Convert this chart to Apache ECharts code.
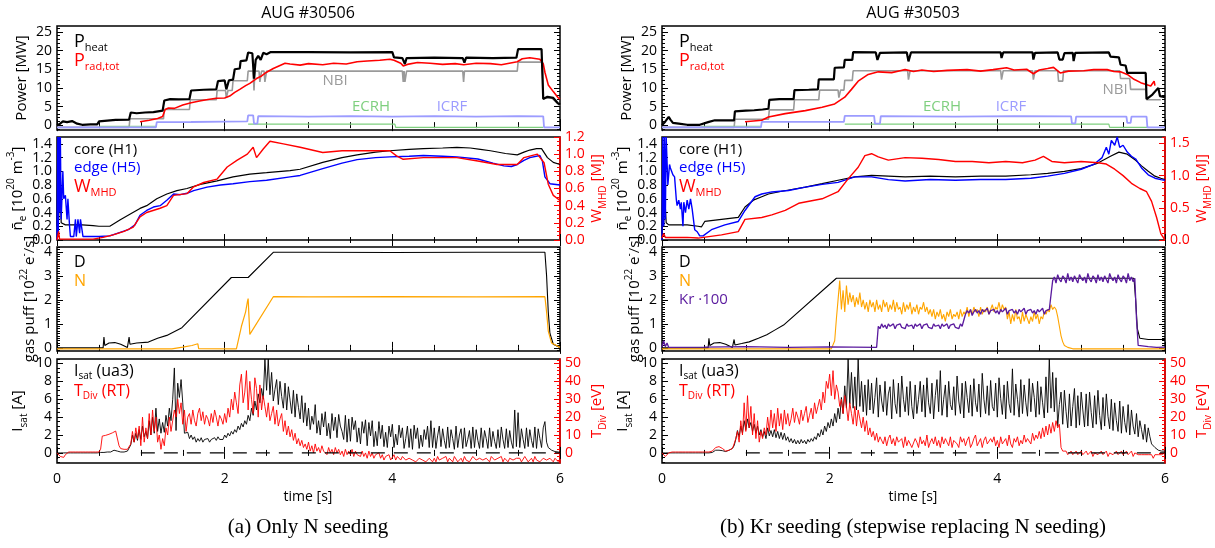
<!DOCTYPE html>
<html><head><meta charset="utf-8">
<script src="https://cdn.jsdelivr.net/npm/echarts@6/dist/echarts.min.js"></script>
<style>html,body{margin:0;padding:0;background:#fff}#c{width:1215px;height:548px}</style>
</head><body><div id="c"></div><script>
// ================= DATA =================
const titles = ['AUG #30506', 'AUG #30503'];
const captions = ['(a) Only N seeding', '(b) Kr seeding (stepwise replacing N seeding)'];
const xTicks = [0, 2, 4, 6];
const powTicks = [0, 5, 10, 15, 20, 25];
const neTicks = [0, 0.2, 0.4, 0.6, 0.8, 1.0, 1.2, 1.4];
const wTicksA = [0, 0.2, 0.4, 0.6, 0.8, 1.0, 1.2];
const wTicksB = [0, 0.5, 1.0, 1.5];
const gasTicks = [0, 1, 2, 3, 4];
const isatTicks = [0, 2, 4, 6, 8, 10];
const tdivTicks = [0, 10, 20, 30, 40, 50];
const zeroLine = [[1.0, 0], [6.0, 0]];

// ---------- (a) #30506 ----------
const a_Pheat = [[0,0],[0.03,0.3],[0.07,1.0],[0.12,0.8],[0.18,1.1],[0.24,0.4],[0.3,0.1],[0.4,0.2],[0.48,0.2],[0.5,1.0],[0.6,1.2],[0.7,1.4],[0.86,1.5],[0.88,3.4],[0.95,3.2],[1.05,3.4],[1.15,3.5],[1.26,3.9],[1.28,6.6],[1.35,7.0],[1.45,6.9],[1.58,7.0],[1.6,9.3],[1.75,9.5],[1.9,9.6],[1.92,11.8],[2.0,12.0],[2.02,9.6],[2.05,12.0],[2.1,12.2],[2.12,15.0],[2.18,15.2],[2.19,17.2],[2.26,17.4],[2.28,19.5],[2.33,19.3],[2.35,12.5],[2.37,17.5],[2.4,18.6],[2.43,17.5],[2.46,19.4],[2.5,19.0],[2.55,19.6],[3.0,19.6],[3.5,19.5],[4.0,19.6],[4.02,18.2],[4.12,18.0],[4.15,16.4],[4.17,18.0],[4.5,18.1],[4.84,18.0],[4.86,16.8],[4.88,18.1],[5.2,18.0],[5.48,18.1],[5.5,20.4],[5.78,20.4],[5.8,7.0],[5.85,7.6],[5.92,7.3],[5.97,6.0],[6.0,5.5]];
const a_Prad = [[0.99,0.9],[1.1,1.3],[1.2,1.8],[1.26,2.3],[1.29,4.2],[1.33,4.6],[1.4,4.5],[1.5,5.4],[1.6,6.0],[1.7,6.5],[1.8,6.9],[1.9,7.2],[2.0,7.3],[2.06,7.8],[2.12,8.8],[2.18,9.6],[2.25,10.6],[2.3,11.2],[2.38,12.5],[2.44,13.2],[2.5,14.2],[2.58,15.2],[2.66,16.0],[2.72,16.6],[2.78,16.4],[2.9,16.1],[3.0,16.5],[3.17,16.2],[3.3,16.6],[3.45,16.4],[3.58,17.0],[3.7,17.2],[3.85,17.4],[3.97,17.7],[4.02,17.4],[4.1,16.6],[4.13,15.9],[4.18,16.3],[4.3,16.8],[4.45,16.6],[4.6,16.3],[4.75,16.5],[4.85,16.2],[5.0,16.6],[5.17,16.5],[5.3,16.2],[5.49,17.0],[5.55,17.8],[5.64,18.1],[5.76,17.7],[5.8,16.5],[5.82,14.2],[5.86,10.8],[5.92,9.0],[5.98,7.3],[6.0,7.0]];
const a_NBI = [[0,-0.6],[0.86,-0.6],[0.87,1.7],[1.27,1.7],[1.28,4.2],[1.58,4.2],[1.59,6.8],[1.9,6.8],[1.91,9.3],[2.01,9.3],[2.02,7.3],[2.04,9.3],[2.09,9.3],[2.1,11.9],[2.27,11.9],[2.28,14.5],[2.34,14.5],[2.35,9.3],[2.36,14.5],[2.41,14.5],[2.42,11.6],[2.44,14.5],[2.47,14.5],[2.48,11.6],[2.5,14.5],[4.12,14.5],[4.13,11.6],[4.14,14.5],[4.15,11.6],[4.17,14.5],[4.84,14.5],[4.85,11.6],[4.86,14.5],[5.49,14.5],[5.5,16.9],[5.79,16.9],[5.8,7.3],[5.9,7.3],[6.0,5.2]];
const a_ECRH = [[0.51,-0.3],[1.19,-0.3],[1.2,'-'],[2.28,0.3],[4.03,0.3],[4.04,-0.6],[5.8,-0.6]];
const a_ICRF = [[0,-0.6],[1.18,-0.6],[1.19,0.8],[1.6,0.85],[2.0,0.95],[2.27,1.0],[2.28,2.6],[2.34,2.6],[2.35,0.4],[2.39,0.4],[2.4,2.4],[3.0,2.3],[3.5,2.4],[4.0,2.3],[4.5,2.4],[5.0,2.3],[5.5,2.4],[5.8,2.35],[5.81,-0.6],[6,-0.6]];
const a_core = [[0,0.2],[0.01,1.5],[0.02,0.3],[0.03,1.2],[0.05,0.25],[0.1,0.22],[0.3,0.22],[0.43,0.21],[0.5,0.2],[0.63,0.2],[0.75,0.29],[0.89,0.39],[0.99,0.46],[1.07,0.5],[1.19,0.6],[1.31,0.67],[1.43,0.72],[1.55,0.75],[1.71,0.81],[1.91,0.86],[2.1,0.92],[2.3,0.96],[2.5,0.98],[2.78,1.01],[2.9,1.03],[3.17,1.13],[3.4,1.2],[3.58,1.24],[3.8,1.28],[3.97,1.3],[4.2,1.32],[4.37,1.33],[4.6,1.34],[4.77,1.35],[4.93,1.34],[5.05,1.32],[5.17,1.3],[5.35,1.26],[5.49,1.24],[5.57,1.28],[5.64,1.31],[5.72,1.33],[5.78,1.33],[5.85,1.2],[5.92,1.13],[6.0,1.1]];
const a_edge = [[0,0],[0.01,1.5],[0.015,0.1],[0.025,1.5],[0.03,0.4],[0.04,1.5],[0.05,0.3],[0.07,1.0],[0.08,0.6],[0.1,0.65],[0.12,0.3],[0.13,0.6],[0.15,0.2],[0.16,0.05],[0.2,0.05],[0.22,0.3],[0.23,0.05],[0.25,0.3],[0.27,0.1],[0.28,0.3],[0.3,0.28],[0.31,0.05],[0.4,0.05],[0.5,0.05],[0.63,0.06],[0.7,0.09],[0.85,0.15],[0.93,0.22],[0.99,0.36],[1.07,0.43],[1.15,0.48],[1.23,0.5],[1.31,0.58],[1.39,0.67],[1.47,0.66],[1.55,0.68],[1.63,0.72],[1.79,0.77],[1.95,0.8],[2.1,0.82],[2.3,0.85],[2.5,0.87],[2.78,0.92],[2.9,0.94],[3.17,1.04],[3.4,1.12],[3.58,1.17],[3.8,1.2],[3.97,1.21],[4.2,1.22],[4.37,1.23],[4.6,1.22],[4.77,1.21],[5.02,1.18],[5.2,1.12],[5.33,1.08],[5.42,1.07],[5.49,1.1],[5.57,1.16],[5.64,1.2],[5.76,1.23],[5.79,1.15],[5.82,0.92],[5.88,0.82],[6.0,0.8]];
const a_Wmhd = [[0,0.0],[0.02,0.1],[0.03,0.01],[0.2,0.01],[0.43,0.01],[0.55,0.03],[0.67,0.06],[0.8,0.1],[0.91,0.15],[0.99,0.27],[1.07,0.32],[1.23,0.37],[1.31,0.4],[1.39,0.52],[1.55,0.54],[1.63,0.62],[1.75,0.67],[1.91,0.71],[2.03,0.85],[2.15,0.93],[2.27,1.0],[2.34,1.08],[2.38,0.96],[2.46,1.06],[2.54,1.15],[2.7,1.12],[2.9,1.08],[3.17,1.02],[3.4,1.04],[3.58,1.04],[3.97,1.04],[4.05,0.98],[4.13,0.94],[4.37,0.96],[4.77,0.96],[5.02,0.92],[5.25,0.88],[5.49,0.88],[5.57,0.96],[5.73,1.0],[5.81,0.9],[5.86,0.65],[5.92,0.52],[6.0,0.46]];
const a_D = [[0,0],[0.55,0],[0.56,0.45],[0.57,0.1],[0.62,0.2],[0.69,0.22],[0.76,0.15],[0.84,0.02],[0.86,0.45],[0.87,0.15],[0.95,0.2],[1.09,0.24],[1.2,0.4],[1.31,0.52],[1.49,0.84],[2.08,2.93],[2.28,2.93],[2.58,3.98],[3.0,3.98],[4.0,3.97],[5.0,3.98],[5.82,3.98],[5.84,3.0],[5.86,1.5],[5.88,0.6],[5.92,0.15],[6.0,0.02]];
const a_N = [[0,-0.04],[1.37,-0.04],[1.5,0.03],[1.61,0.1],[1.62,0.16],[1.68,0.17],[1.69,-0.03],[2.14,-0.04],[2.2,0.9],[2.25,1.5],[2.27,1.9],[2.28,2.05],[2.3,0.56],[2.58,2.13],[3.0,2.12],[4.0,2.13],[5.0,2.12],[5.82,2.13],[5.84,1.5],[5.86,0.7],[5.9,0.2],[6.0,0.02]];
// I_sat (A), sampled every 0.02 s from t = 0
const a_Isat = [
 0,0,0,0,0,0,0,0,0,0,0,0,0,0,0,0,0,0,0,0,0,0,0,0,0,
 0,0.05,0.05,0.05,0.05,0.1,0.1,0.1,0.2,0.3,0.3,0.2,0.1,0.1,0.1,0.1,0.15,0.2,0.3,0.9,2.0,1.2,2.2,1.4,2.6,
 1.5,3.0,1.8,2.4,1.6,3.6,2.0,4.0,2.2,5.0,2.4,3.8,2.2,3.4,2.3,4.2,3.0,5.0,3.6,6.0,9.5,2.5,7.8,6.2,8.2,
 5.6,2.2,2.1,2.3,1.6,2.0,1.5,1.8,1.2,1.6,1.3,1.7,1.2,1.5,1.3,1.6,1.2,1.5,1.3,1.7,1.4,1.8,1.5,1.7,1.5,
 2.0,1.7,2.2,1.9,2.4,2.1,2.6,2.3,3.0,2.6,3.3,2.9,3.6,3.2,4.2,3.6,5.0,4.2,5.8,4.8,6.6,5.6,7.2,6.0,10.5,
 7.0,10.5,6.5,9.0,5.8,7.1,8.2,5.4,8.0,6.3,5.0,7.8,4.8,7.4,5.9,4.4,7.0,4.0,6.6,5.1,3.8,6.4,3.4,5.6,3.0,
 5.0,2.6,4.1,3.2,5.4,2.2,3.6,2.0,4.4,2.9,4.6,1.9,3.3,1.6,4.4,2.5,4.0,1.7,4.3,3.0,2.4,1.5,4.2,1.2,3.8,
 1.3,4.0,2.6,3.6,1.2,2.8,1.0,3.5,2.2,3.7,0.8,3.4,1.9,3.6,0.7,2.4,0.8,3.5,1.6,3.1,0.7,2.3,0.6,3.0,1.8,
 3.2,0.6,2.1,0.9,3.1,1.7,2.8,0.5,1.6,3.0,0.6,2.7,0.4,3.1,1.6,2.8,0.5,2.0,0.7,2.6,1.5,3.0,0.6,3.6,0.6,
 2.8,0.5,1.9,3.0,0.7,2.7,1.4,0.5,2.9,0.6,2.6,1.6,0.4,3.0,0.6,2.0,2.7,0.5,2.8,0.7,1.5,2.5,0.5,2.9,0.6,
 2.6,1.4,0.5,2.8,0.6,2.5,1.6,0.5,2.8,0.7,2.4,1.3,0.5,2.6,0.6,2.9,1.5,0.5,2.7,0.6,2.5,1.2,0.5,4.8,0.7,
 4.5,0.6,2.7,1.5,0.5,2.8,0.7,2.6,1.4,0.6,2.9,0.5,2.7,1.6,0.6,2.8,3.5,1.2,0.6,0.4,0.3,0.2,0.15,0.12,0.1,
 0.1];
// T_Div (eV), sampled every 0.02 s from t = 0
const a_Tdiv = [
 0,-1,-2,-1.5,-2.5,-1,0,0.5,0.5,0.5,0.5,0.5,0.5,0.5,0.5,0.5,0.5,0.5,0.5,0.5,0.5,0.5,0.5,0.5,0.5,
 0.5,2,9.4,10,9.8,10.2,10.4,10.8,11.2,11.8,12.2,12.6,4,2.4,2.2,2.0,2.2,2.0,2.4,5,12,6,14,8,15,
 4,20,6,14,8,22,10,24,12,20,6,10,2,8,4,14,10,20,12,18,24,20,30,22,28,
 16,24,12,20,22,16,24,18,15,22,25,18,23,16,21,19,15,22,17,24,20,15,21,19,16,
 22,17,25,20,30,24,34,28,22,38,44,28,34,46,24,40,30,22,42,36,20,38,24,32,26,
 20,28,18,22,26,16,24,15,19,22,12,18,10,15,9,13,7,11,5,8,4,7,3,5,2,
 6,1,4,0,5,1,3,0,4,1,2,-1,3,0,2,-1,3,0,2,-1,1,-2,2,-1,1,
 -1,2,-2,1,-1,0,-2,1,-2,0,-3,1,-2,0,-3,-1,-2,0,-3,-1,-4,-2,-3,-1,-4,
 -3,-1,-4,-2,-3,-4,-2,-3,-4,-5,-3,-2,-4,-3,-5,-4,-3,-2,-4,-3,-5,-4,-3,-4,-5,
 -3,-5,-2,-4,-5,-3,-4,-2,-5,-3,-4,-5,-2,-3,-5,-4,-3,-5,-2,-4,-3,-5,-4,-2,-3,
 -4,-5,-3,-2,-4,-5,-3,-4,-5,-2,-3,-4,-5,-3,-4,-2,-5,-3,-4,-5,-3,-2,-4,-5,-3,
 -4,-3,-5,-4,-2,-3,-5,-4,-3,-5,-2,-4,-3,-5,-4,-3,-2,-4,-5,-3,-4,-5,-3,-4,-5,
 -5];

// ---------- (b) #30503 ----------
const b_Pheat = [[0,0],[0.04,1.0],[0.08,2.2],[0.1,1.5],[0.13,0.6],[0.2,0.4],[0.3,0.1],[0.45,0.1],[0.47,0.6],[0.55,0.8],[0.63,1.3],[0.86,1.3],[0.87,3.7],[1.0,3.9],[1.1,4.0],[1.2,4.2],[1.27,4.4],[1.28,6.8],[1.4,7.0],[1.57,7.0],[1.58,9.4],[1.75,9.5],[1.86,9.6],[1.87,12.3],[2.05,12.3],[2.06,15.4],[2.17,15.5],[2.18,17.5],[2.27,17.5],[2.28,19.6],[2.55,19.5],[2.57,17.5],[2.6,19.4],[2.92,19.5],[2.94,17.1],[2.97,19.5],[3.5,19.5],[4.04,19.5],[4.05,18.0],[4.07,19.5],[4.42,19.5],[4.43,17.6],[4.45,19.4],[4.72,19.5],[4.74,17.6],[4.78,17.6],[4.8,19.3],[4.9,19.4],[4.91,17.2],[4.93,19.4],[5.33,19.5],[5.35,18.4],[5.45,18.2],[5.47,16.2],[5.53,16.0],[5.55,14.0],[5.77,14.0],[5.78,7.0],[5.85,8.2],[5.92,10.0],[5.94,7.8],[6.0,7.5]];
const b_Prad = [[0.99,0.9],[1.19,1.3],[1.27,2.2],[1.47,3.1],[1.71,3.9],[1.91,4.8],[2.06,5.7],[2.18,7.5],[2.26,9.6],[2.34,11.8],[2.46,13.6],[2.58,14.3],[2.74,14.1],[2.84,14.6],[2.9,14.9],[3.0,14.4],[3.1,14.8],[3.24,14.4],[3.4,14.7],[3.64,14.9],[3.8,14.5],[3.95,14.9],[4.11,15.4],[4.2,14.8],[4.35,15.0],[4.43,13.8],[4.5,14.8],[4.6,15.2],[4.67,15.5],[4.75,14.0],[4.85,14.5],[5.03,14.6],[5.15,14.9],[5.31,14.9],[5.39,14.4],[5.47,14.3],[5.55,13.6],[5.63,12.3],[5.71,11.4],[5.83,10.5],[5.87,11.8],[5.88,10.6]];
const b_NBI = [[0,-0.6],[0.86,-0.6],[0.87,1.6],[1.27,1.6],[1.28,4.1],[1.57,4.1],[1.58,6.8],[1.87,6.8],[1.88,9.4],[2.1,9.4],[2.11,7.4],[2.13,9.4],[2.17,9.4],[2.18,12.0],[2.27,12.0],[2.28,14.6],[2.93,14.6],[2.94,12.2],[2.96,14.6],[4.04,14.6],[4.05,12.2],[4.07,14.6],[4.42,14.6],[4.43,12.2],[4.45,14.6],[4.72,14.6],[4.73,11.8],[4.78,11.8],[4.79,14.6],[5.46,14.6],[5.47,12.5],[5.58,12.5],[5.59,9.6],[5.77,9.6],[5.78,6.8],[5.95,6.8]];
const b_ECRH = [[0.47,-0.3],[1.19,-0.3],[1.2,'-'],[2.18,0.3],[5.33,0.3],[5.34,-0.6],[5.8,-0.6]];
const b_ICRF = [[0,-0.6],[1.18,-0.6],[1.19,0.9],[2.17,0.9],[2.18,2.5],[2.53,2.5],[2.54,0.4],[2.6,0.4],[2.61,2.4],[3.5,2.3],[4.2,2.4],[4.88,2.35],[4.89,0.5],[4.93,0.5],[4.94,2.3],[5.54,2.3],[5.55,0.6],[5.59,0.6],[5.6,2.3],[5.78,2.3],[5.79,-0.6],[6,-0.6]];
const b_core = [[0,0.1],[0.01,0.75],[0.02,0.2],[0.03,0.7],[0.05,0.25],[0.08,0.22],[0.3,0.22],[0.43,0.2],[0.47,0.19],[0.51,0.27],[0.71,0.3],[0.91,0.33],[0.99,0.48],[1.09,0.58],[1.19,0.63],[1.27,0.67],[1.43,0.71],[1.71,0.77],[1.91,0.82],[2.1,0.87],[2.3,0.92],[2.5,0.94],[2.7,0.93],[2.9,0.92],[3.2,0.93],[3.5,0.92],[3.8,0.93],[4.1,0.93],[4.4,0.95],[4.6,0.97],[4.8,1.0],[5.0,1.04],[5.2,1.12],[5.35,1.22],[5.45,1.28],[5.55,1.25],[5.65,1.16],[5.72,1.08],[5.8,1.0],[5.88,0.93],[5.95,0.9],[6.0,0.88]];
const b_edge = [[0,0],[0.01,1.5],[0.02,0.2],[0.03,1.5],[0.04,0.3],[0.05,1.5],[0.07,0.8],[0.09,1.1],[0.1,1.05],[0.13,0.95],[0.15,0.92],[0.17,0.6],[0.18,0.5],[0.2,0.58],[0.22,0.45],[0.23,0.55],[0.25,0.2],[0.26,0.55],[0.28,0.4],[0.3,0.58],[0.32,0.45],[0.34,0.6],[0.36,0.45],[0.37,0.45],[0.39,0.15],[0.42,0.12],[0.45,0.06],[0.49,0.06],[0.59,0.15],[0.75,0.22],[0.91,0.27],[0.99,0.43],[1.11,0.63],[1.19,0.67],[1.31,0.7],[1.51,0.72],[1.71,0.77],[1.91,0.81],[2.1,0.84],[2.3,0.92],[2.5,0.92],[2.7,0.88],[2.9,0.86],[3.2,0.88],[3.5,0.87],[3.8,0.88],[4.1,0.88],[4.4,0.9],[4.6,0.93],[4.8,0.97],[5.0,1.03],[5.15,1.1],[5.25,1.2],[5.3,1.35],[5.33,1.25],[5.36,1.45],[5.4,1.38],[5.43,1.5],[5.46,1.35],[5.5,1.38],[5.55,1.28],[5.6,1.22],[5.65,1.18],[5.72,1.05],[5.8,0.95],[5.88,0.9],[5.95,0.88],[6.0,0.87]];
const b_Wmhd = [[0,0.03],[0.02,0.1],[0.04,0.04],[0.3,0.04],[0.43,0.03],[0.71,0.08],[0.91,0.13],[0.99,0.32],[1.19,0.35],[1.31,0.39],[1.47,0.46],[1.63,0.57],[1.91,0.64],[2.1,0.75],[2.22,0.95],[2.34,1.13],[2.42,1.31],[2.5,1.34],[2.58,1.29],[2.7,1.24],[2.9,1.28],[3.1,1.27],[3.3,1.25],[3.5,1.22],[3.7,1.22],[3.9,1.2],[4.1,1.22],[4.3,1.2],[4.45,1.24],[4.55,1.3],[4.65,1.22],[4.8,1.2],[5.0,1.22],[5.2,1.2],[5.3,1.18],[5.4,1.1],[5.5,1.0],[5.6,0.88],[5.7,0.8],[5.78,0.75],[5.84,0.6],[5.9,0.35],[5.95,0.1],[6.0,0.0]];
const b_D = [[0,0],[0.55,0],[0.56,0.4],[0.57,0.1],[0.62,0.2],[0.69,0.22],[0.76,0.15],[0.84,0.02],[0.86,0.35],[0.87,0.12],[0.95,0.18],[1.04,0.25],[1.15,0.4],[1.25,0.55],[1.35,0.75],[1.45,0.95],[2.08,2.9],[3.0,2.9],[4.0,2.9],[5.0,2.9],[5.63,2.9],[5.65,2.0],[5.67,0.8],[5.7,0.4],[5.8,0.35],[6.0,0.35]];
const b_N_head = [[0,-0.04],[2.02,-0.04]];
// N gas puff, sampled every 0.02 s from t = 2.04
const b_N = [0,0.3,1.2,2.0,2.8,1.6,2.4,1.5,2.6,1.8,2.3,1.9,2.2,1.7,2.1,1.8,2.3,1.7,2.0,1.6,1.9,1.5,2.0,1.7,
 1.9,1.5,2.0,1.6,1.8,1.5,2.0,1.7,1.9,1.5,1.8,1.6,2.0,1.5,1.9,1.6,1.7,1.4,1.9,1.5,1.8,1.6,1.9,1.4,1.7,1.5,1.8,1.4,1.7,1.6,1.9,1.5,1.7,1.4,1.6,
 1.3,1.6,1.2,1.5,1.3,1.6,1.2,1.4,1.1,1.5,1.3,1.6,1.2,1.4,1.3,1.5,1.2,1.6,1.3,1.5,
 1.4,1.7,1.3,1.6,1.4,1.7,1.5,1.6,1.3,1.7,1.4,1.6,1.5,1.7,1.4,
 1.6,1.8,1.5,1.7,1.6,1.9,1.5,1.8,1.6,1.7,
 1.2,1.5,1.0,1.4,1.1,1.6,1.2,1.3,1.0,1.5,1.1,1.4,1.2,1.0,1.3,1.1,1.5,1.2,1.4,1.0,1.3,1.2,1.5,
 1.4,1.6,1.5,1.8,1.6,1.7,1.6,
 1.3,0.9,0.5,0.25,0.1,0.05,0.02,0];
const b_N_tail = [[4.9,-0.04],[6.0,-0.04]];
const b_Kr_head = [[0,0.02],[0.02,0.3],[0.04,0.05],[0.06,0.2],[0.08,0.02],[0.5,0.03],[1.0,0.05],[1.5,0.02],[2.0,0.04],[2.56,0.02]];
// Kr puff x100, sampled every 0.02 s from t = 2.58
const b_Kr = [0.9,0.8,1.0,0.85,0.95,0.8,1.0,0.9,0.85,1.0,0.8,0.95,0.9,1.0,0.85,0.9,0.8,1.0,0.9,0.85,0.95,0.8,1.0,0.9,0.85,1.0,0.8,0.95,0.9,1.0,0.85,0.9,0.8,1.0,0.9,0.85,0.95,0.8,1.0,0.9,0.85,1.0,0.8,0.95,0.9,1.0,0.85,0.9,0.8,1.0,0.9,0.95,
 1.4,1.55,1.45,1.6,1.35,1.5,1.6,1.45,1.55,1.4,1.6,1.5,1.45,1.65,1.4,1.55,1.5,1.6,1.45,1.55,1.4,1.6,1.5,1.45,1.65,1.4,1.55,1.5,1.6,1.45,1.55,1.4,1.6,1.5,1.45,1.65,1.4,1.55,1.5,1.6,1.45,1.55,1.4,1.6,1.5,1.45,1.65,1.4,1.55,1.5,1.6,1.55,
 2.8,2.95,2.7,3.05,2.85,2.75,3.0,2.9,2.7,3.1,2.8,2.95,2.75,3.0,2.85,2.7,3.05,2.9,2.8,2.95,2.7,3.1,2.85,2.75,3.0,2.9,2.7,3.05,2.8,2.95,2.75,3.0,2.85,2.7,3.1,2.9,2.8,2.95,2.7,3.05,2.85,2.75,3.0,2.9,2.7,3.1,2.8,2.95,2.75,2.9,
 1.2,0.1];
const b_Kr_tail = [[5.7,0.02],[5.8,0.05],[5.9,0.02],[6.0,0.03]];
const b_Isat = [
 0,0,0,0,0,0,0,0,0,0,0,0,0,0,0,0,0,0,0,0,0,0,0,0,0,
 0,0,0,0,0,0.05,0.2,0.3,0.35,0.3,0.3,0.25,0.2,0.15,0.2,0.3,0.4,0.5,0.8,1.5,2.5,1.8,3.0,2.2,3.6,
 2.6,3.8,2.8,3.4,2.4,3.2,2.2,3.0,2.0,2.6,1.8,2.4,1.6,2.8,1.9,2.5,1.8,2.6,1.7,2.4,1.6,2.3,1.5,2.2,1.4,
 1.8,1.2,1.6,1.1,1.5,1.0,1.4,1.0,1.5,1.1,1.4,1.0,1.5,1.2,1.6,1.3,1.8,1.5,2.2,1.8,2.6,2.0,3.0,2.4,3.4,
 2.8,3.8,3.0,4.4,3.4,5.0,3.8,6.2,4.4,7.5,5.0,10.5,5.5,9.0,5.0,8.5,4.8,10.5,5.2,8.0,4.6,7.6,4.2,8.2,4.8,
 7.8,4.4,6.2,8.4,4.0,7.6,5.8,4.6,8.0,4.2,6.6,7.4,3.8,8.2,5.5,4.4,7.8,4.0,8.6,6.0,4.6,7.4,4.2,8.0,5.2,
 3.8,7.6,4.4,6.0,8.0,4.6,7.6,4.0,8.4,5.6,4.4,7.8,3.8,6.4,8.2,4.6,9.2,4.2,6.0,7.6,4.0,8.0,5.4,4.8,7.4,
 4.2,8.6,5.8,4.4,7.8,3.9,8.0,6.2,4.5,7.6,4.1,8.3,5.6,4.6,7.7,4.0,8.9,6.0,4.4,7.5,4.2,8.1,5.2,4.7,7.8,
 4.0,8.4,6.1,4.3,7.6,3.8,8.0,5.5,4.5,9.4,4.2,7.7,6.0,4.0,8.2,4.4,7.6,5.6,4.1,8.3,4.6,7.8,6.2,4.0,8.0,
 4.3,7.4,5.6,3.9,8.5,4.5,10.5,5.0,9.0,4.6,8.4,3.0,5.4,6.8,3.2,7.0,4.6,2.8,6.6,3.0,5.2,7.2,2.8,6.4,3.1,
 6.8,4.8,2.9,6.6,3.0,6.8,4.5,2.8,6.4,3.2,7.0,4.2,2.6,6.2,3.0,6.6,4.1,2.7,6.0,2.5,5.6,3.6,2.4,5.8,2.2,
 5.2,3.4,2.3,5.4,2.0,4.8,3.0,2.1,4.4,1.8,3.6,2.6,1.5,3.2,1.2,2.8,1.8,1.0,1.2,0.6,0.4,0.3,0.25,0.2,0.2,
 0.2];
const b_Tdiv = [
 0,-1,-2,-1,0,0.5,0.5,0.5,0.5,0.5,0.5,0.5,0.5,0.5,0.5,0.5,0.5,0.5,0.5,0.5,0.5,0.5,0.5,0.5,0.5,
 0.5,0.5,0.5,0.5,0.5,1,2,3,3.5,3.5,3,2.5,1.5,1,1,1.5,2,2.5,5,8,12,6,18,10,28,
 12,32,14,26,10,22,8,18,6,12,8,14,10,20,12,24,14,22,12,25,15,22,13,24,16,
 22,15,19,25,17,23,20,16,24,18,22,26,17,21,25,19,28,22,26,30,24,34,28,40,36,
 44,32,46,30,38,34,26,30,22,32,26,18,28,22,16,26,15,24,19,14,20,12,18,10,14,
 9,12,7,11,6,9,10,5,9,4,8,10,5,8,4,9,6,5,8,3,9,4,7,8,3,
 4,8,6,3,9,5,7,4,10,3,6,8,5,9,4,7,3,9,5,8,6,4,9,3,7,
 8,5,3,9,6,8,4,7,9,3,5,8,10,4,6,8,3,7,9,5,4,8,6,9,4,
 7,3,9,5,6,8,4,10,5,3,8,6,9,4,7,5,10,6,8,9,5,11,7,10,8,
 12,8,14,9,15,10,16,11,17,12,18,14,16,3,1,0,1,-1,0,1,-1,0,1,-1,0,
 1,-1,0,1,-1,0,1,-2,0,1,-1,0,1,-1,0,1,-2,0,1,-1,0,1,-1,0,1,
 -1,0,1,-1,0,1,-2,0,1,-1,0,-1,-2,-1,0,-1,-2,-1,-3,-1,-2,-1,0,-1,0,
 0];

// ================= BUILD =================
const FONT = "'Open Sans', 'DejaVu Sans', sans-serif";
const SERIF = "'Liberation Serif', 'DejaVu Serif', serif";
const RED = '#ff0000', BLUE = '#0000ff', GRAY = '#9a9a9a', GREEN = '#7fcf7f', LAV = '#9c9cff', ORANGE = '#ffa500', PURPLE = '#5a1a9e';

function seq(t0, dt, vals) { return vals.map((v, i) => [+(t0 + i * dt).toFixed(3), v]); }
function range(a, b, s) { const r = []; for (let k = Math.ceil(a / s - 1e-9); k * s <= b + 1e-9; k++) r.push(+(k * s).toFixed(4)); return r; }
function minors(min, max, step, majors) { return range(min, max, step).filter(v => !majors.some(m => Math.abs(m - v) < 1e-6)); }

const colLeft = [57, 662], plotW = 503;
const rowsL = [[26, 104], [137, 103], [247, 104], [359, 104]];
const grid = [], xAxis = [], yAxis = [], series = [];

const nameStyle = (color) => ({
  color, fontSize: 15, fontFamily: FONT,
  rich: {
    t: { color, fontSize: 15, fontFamily: FONT, lineHeight: 22 },
    s: { color, fontSize: 10, fontFamily: FONT, lineHeight: 10, verticalAlign: 'bottom' },
    p: { color, fontSize: 10, fontFamily: FONT, lineHeight: 10, verticalAlign: 'top' }
  }
});

// Labels are split over two stacked axes (even / odd ticks) so that dense labels are never auto-hidden.
function addY(gi, pos, min, max, majors, minorStep, color, showLab, fmt, name, nameGap, lineColor) {
  const base = { gridIndex: gi, type: 'value', min, max, position: pos, splitLine: { show: false } };
  const even = majors.filter((_, i) => i % 2 === 0), odd = majors.filter((_, i) => i % 2 === 1);
  const lab = (vals) => ({ show: showLab, customValues: vals, formatter: fmt, color, fontSize: 14, fontFamily: FONT, margin: 5, showMinLabel: true, showMaxLabel: true });
  yAxis.push(Object.assign({}, base, {
    axisLine: { show: !!lineColor, lineStyle: { color: lineColor || '#000', width: 1.5 } },
    axisTick: { show: true, inside: true, length: 6, customValues: majors, lineStyle: { color, width: 1 } },
    axisLabel: lab(even),
    name: name || '', nameLocation: 'middle', nameRotate: 90, nameGap: nameGap || 30,
    nameTextStyle: nameStyle(color)
  }));
  yAxis.push(Object.assign({}, base, {
    axisLine: { show: false },
    axisTick: { show: true, inside: true, length: 3, customValues: minors(min, max, minorStep, majors), lineStyle: { color, width: 1 } },
    axisLabel: lab(odd)
  }));
}
const f0 = v => String(v), f1 = v => v.toFixed(1);

function line(gi, right, data, color, width, z, extra) {
  return Object.assign({
    type: 'line', xAxisIndex: gi * 2, yAxisIndex: gi * 4 + (right ? 2 : 0), data,
    showSymbol: false, symbol: 'none', silent: true, animation: false, z: z || 2,
    lineStyle: { color, width }, itemStyle: { color }
  }, extra || {});
}

for (let c = 0; c < 2; c++) {
  for (let r = 0; r < 4; r++) {
    const gi = c * 4 + r;
    grid.push({ left: colLeft[c], top: rowsL[r][0], width: plotW, height: rowsL[r][1], show: true, borderColor: '#000', borderWidth: 1.5, backgroundColor: 'transparent' });
    const xb = { gridIndex: gi, type: 'value', min: 0, max: 6, interval: 2, axisLine: { show: false }, splitLine: { show: false },
      axisTick: { inside: true, length: 6, lineStyle: { color: '#000' } },
      minorTick: { show: true, splitNumber: 4, length: 3, lineStyle: { color: '#000' } } };
    xAxis.push(Object.assign({}, xb, { position: 'bottom', axisLabel: { show: r === 3, margin: 9, color: '#000', fontSize: 14, fontFamily: FONT, customValues: xTicks, showMinLabel: true, showMaxLabel: true } }));
    xAxis.push(Object.assign({}, xb, { position: 'top', axisLabel: { show: false } }));
    if (r === 0) {
      addY(gi, 'left', -1.3, 26.6, powTicks, 1, '#000', true, f0, 'Power [MW]', 28);
      addY(gi, 'right', -1.3, 26.6, powTicks, 1, '#000', false, f0);
    } else if (r === 1) {
      addY(gi, 'left', 0, 1.5, neTicks, 0.05, '#000', true, f1, '{t|n̄}{s|e}{t| [10}{p|20}{t| m}{p|-3}{t|]}', 28);
      if (c === 0) addY(gi, 'right', 0, 1.2, wTicksA, 0.05, RED, true, f1, '{t|W}{s|MHD}{t| [MJ]}', 26, RED);
      else addY(gi, 'right', 0, 1.6, wTicksB, 0.1, RED, true, f1, '{t|W}{s|MHD}{t| [MJ]}', 26, RED);
    } else if (r === 2) {
      addY(gi, 'left', -0.13, 4.2, gasTicks, 0.1, '#000', true, f0, '{t|gas puff [10}{p|22}{t| e}{p|-}{t|/s]}', 16);
      addY(gi, 'right', -0.13, 4.2, gasTicks, 0.1, '#000', false, f0);
    } else {
      addY(gi, 'left', -1.13, 10.5, isatTicks, 0.5, '#000', true, f0, '{t|I}{s|sat}{t| [A]}', 28);
      addY(gi, 'right', -5.65, 52.5, tdivTicks, 2, RED, true, f0, '{t|T}{s|Div}{t| [eV]}', 26, RED);
    }
  }
}

// panel 1 (power)
const P = [[a_NBI, a_ECRH, a_ICRF, a_Prad, a_Pheat], [b_NBI, b_ECRH, b_ICRF, b_Prad, b_Pheat]];
for (let c = 0; c < 2; c++) {
  const gi = c * 4, d = P[c];
  series.push(line(gi, false, d[0], GRAY, 1.6, 2));
  series.push(line(gi, false, d[1], GREEN, 1.2, 2, { connectNulls: false }));
  series.push(line(gi, false, d[2], LAV, 1.8, 2));
  series.push(line(gi, false, d[3], RED, 1.6, 3));
  series.push(line(gi, false, d[4], '#000', 2.2, 4));
}
// panel 2 (density & W)
const D2 = [[a_core, a_edge, a_Wmhd], [b_core, b_edge, b_Wmhd]];
for (let c = 0; c < 2; c++) {
  const gi = c * 4 + 1, d = D2[c];
  series.push(line(gi, false, d[0], '#000', 1.2, 2));
  series.push(line(gi, false, d[1], BLUE, 1.4, 3));
  series.push(line(gi, true, d[2], RED, 1.4, 4));
}
// panel 3 (gas)
series.push(line(2, false, a_D, '#000', 1.1, 2));
series.push(line(2, false, a_N, ORANGE, 1.2, 3));
series.push(line(6, false, b_D, '#000', 1.1, 2));
series.push(line(6, false, b_N_head.concat(seq(2.04, 0.02, b_N), b_N_tail), ORANGE, 1.1, 3));
series.push(line(6, false, b_Kr_head.concat(seq(2.58, 0.02, b_Kr), b_Kr_tail), PURPLE, 1.3, 4));
// panel 4 (Isat & Tdiv)
const D4 = [[a_Isat, a_Tdiv], [b_Isat, b_Tdiv]];
for (let c = 0; c < 2; c++) {
  const gi = c * 4 + 3, d = D4[c];
  series.push(line(gi, false, seq(0, 0.02, d[0]), '#000', 0.9, 2));
  series.push(line(gi, true, seq(0, 0.02, d[1]), RED, 0.9, 3));
  series.push(line(gi, false, zeroLine, '#000', 1.2, 5, { lineStyle: { color: '#000', width: 1.2, type: [14, 9] } }));
}

// ---------- graphic texts ----------
const graphic = [];
function txt(x, y, text, color, size, family, align, rich) {
  const st = { text, x, y, fill: color, fontSize: size, fontFamily: family || FONT, align: align || 'left', verticalAlign: 'middle' };
  if (rich) st.rich = rich;
  graphic.push({ type: 'text', silent: true, z: 100, style: st });
}
function subRich(color, big, small) {
  return {
    m: { fill: color, fontSize: big, fontFamily: FONT, lineHeight: big + 5 },
    s: { fill: color, fontSize: small, fontFamily: FONT, lineHeight: small, verticalAlign: 'bottom' }
  };
}
const centers = [308, 913];
for (let c = 0; c < 2; c++) {
  const lx = colLeft[c] + 17, cx = centers[c];
  txt(cx, 13, titles[c], '#000', 16, FONT, 'center');
  txt(cx, 497, 'time [s]', '#000', 14, FONT, 'center');
  txt(cx, 527, captions[c], '#000', 21, SERIF, 'center');
  txt(lx, 42, '{m|P}{s|heat}', '#000', 18, FONT, 'left', subRich('#000', 18, 11));
  txt(lx, 61, '{m|P}{s|rad,tot}', RED, 18, FONT, 'left', subRich(RED, 18, 11));
  txt(lx, 150, 'core (H1)', '#000', 15);
  txt(lx, 168, 'edge (H5)', BLUE, 15);
  txt(lx, 187, '{m|W}{s|MHD}', RED, 18, FONT, 'left', subRich(RED, 18, 11));
  txt(lx, 262, 'D', '#000', 16);
  txt(lx, 281, 'N', ORANGE, 16);
  txt(lx, 371, '{m|I}{s|sat}{m| (ua3)}', '#000', 16, FONT, 'left', subRich('#000', 16, 10));
  txt(lx, 391, '{m|T}{s|Div}{m| (RT)}', RED, 16, FONT, 'left', subRich(RED, 16, 10));
}
txt(679, 300, 'Kr ·100', PURPLE, 15);
txt(335, 81, 'NBI', GRAY, 15, FONT, 'center');
txt(371, 107, 'ECRH', GREEN, 15, FONT, 'center');
txt(452, 107, 'ICRF', LAV, 15, FONT, 'center');
txt(1115, 90, 'NBI', GRAY, 15, FONT, 'center');
txt(942, 107, 'ECRH', GREEN, 15, FONT, 'center');
txt(1011, 107, 'ICRF', LAV, 15, FONT, 'center');

const chart = echarts.init(document.getElementById('c'), null, { renderer: 'canvas' });
chart.setOption({ animation: false, backgroundColor: '#fff', grid, xAxis, yAxis, series, graphic });
</script></body></html>
